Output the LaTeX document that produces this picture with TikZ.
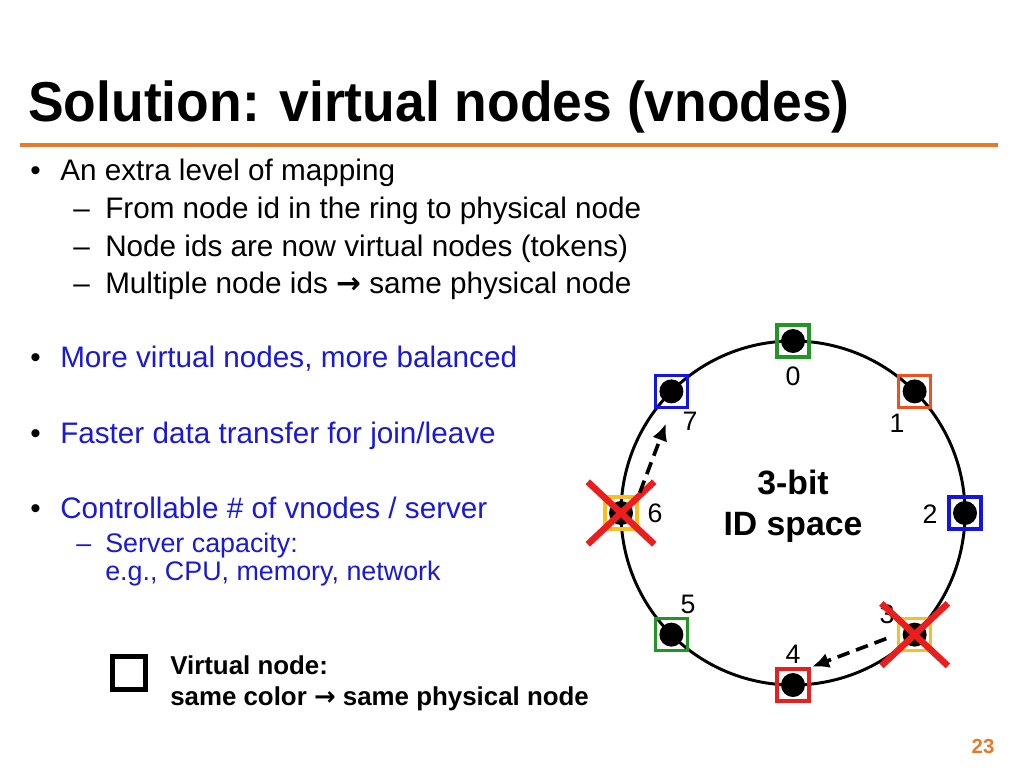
\documentclass[tikz,border=0pt]{standalone}
\usepackage{fontspec}
\setmainfont{Liberation Sans}
\newfontfamily\titlefont[FakeStretch=0.95]{Liberation Sans}
\newfontfamily\symfont{DejaVu Sans}
\usetikzlibrary{arrows.meta,shapes.misc}
\definecolor{vgreen}{RGB}{34,150,34}
\definecolor{vorange}{RGB}{240,80,30}
\definecolor{vblue}{RGB}{20,20,230}
\definecolor{vgold}{RGB}{250,190,30}
\definecolor{vred}{RGB}{235,30,30}
\definecolor{slideorange}{RGB}{235,120,40}
\definecolor{textblue}{RGB}{25,25,215}
\newcommand{\ar}{{\symfont\bfseries\char"2192}}
\begin{document}
\begin{tikzpicture}[x=0.025cm,y=-0.025cm,
    vnode/.style={draw,line width=2.6pt,minimum size=0.8cm,inner sep=0pt},
    crossmark/.style={cross out,draw=vred,line width=4.6pt,minimum width=1.5cm,minimum height=1.4cm,inner sep=0pt},
    move/.style={dashed,line width=2.6pt,dash pattern=on 9pt off 5pt,-{Latex[length=12pt,width=11pt]}},
    txt/.style={anchor=base west,inner sep=0pt,font=\fontsize{21.1}{25}\selectfont},
    subtxt/.style={txt,font=\fontsize{19.1}{22}\selectfont}]
  \useasboundingbox (0,0) rectangle (1024,768);
  % title
  \node[anchor=base west,inner sep=0pt,font=\titlefont\bfseries\fontsize{40}{44}\selectfont] (title) at (28,122) {Solution: virtual nodes (vnodes)};
  \draw[slideorange,line width=2.2pt] (20,145) -- (998,145);
  % bullets
  \foreach \y in {180,367,443,518}
    \node[txt] at (30,\y) {\textbullet};
  \foreach \y in {218,256,293}
    \node[txt] at (73,\y) {\textendash};
  \node[txt] (b1) at (60,180) {An extra level of mapping};
  \node[txt] (s1) at (105,218) {From node id in the ring to physical node};
  \node[txt] (s2) at (105,256) {Node ids are now virtual nodes (tokens)};
  \node[txt] (s3) at (105,293) {Multiple node ids \ar{} same physical node};
  \node[txt,textblue] (b2) at (60,367) {More virtual nodes, more balanced};
  \node[txt,textblue] (b3) at (60,443) {Faster data transfer for join/leave};
  \node[txt,textblue] (b4) at (60,518) {Controllable \# of vnodes / server};
  \node[subtxt,textblue] at (76,552) {\textendash};
  \node[subtxt,textblue] (s4) at (105,552) {Server capacity:};
  \node[subtxt,textblue] (s5) at (105,580) {e.g., CPU, memory, network};
  % ring
  \draw[line width=2.1pt] (793,513) circle (172);
  \node[font=\bfseries\fontsize{24}{29}\selectfont,align=center] (idspace) at (793,506) {3-bit\\ID space};
  \foreach \i/\col in {0/vgreen,1/vorange,2/vblue,3/vgold,4/vred,5/vgreen,6/vgold,7/vblue}{
    \fill ({793+172*sin(45*\i)},{513-172*cos(45*\i)}) circle (12);
    \node[vnode,draw=\col] (v\i) at ({793+172*sin(45*\i)},{513-172*cos(45*\i)}) {};
  }
  \foreach \i/\x/\y in {0/793/376,1/897/423,2/930/514,3/887/614,4/793/654,5/688/604,6/655/513,7/690/421}
    \node[font=\fontsize{19}{22}\selectfont] (n\i) at (\x,\y) {\i};
  \node[crossmark] (x6) at (v6) {};
  \node[crossmark] (x3) at (v3) {};
  \draw[move,shorten <=2pt,shorten >=11pt] (v6.north east) -- (v7.south);
  \draw[move,shorten <=8pt,shorten >=1pt] (v3.west) -- (v4.north east);
  % legend
  \node[draw,line width=3pt,minimum size=0.82cm,inner sep=0pt] (legend) at (129,673) {};
  \node[anchor=base west,inner sep=0pt,font=\bfseries\fontsize{18.4}{22}\selectfont,align=left] (legtxt) at (170,705)
    {Virtual node:\\same color \ar{} same physical node};
  \node[slideorange,font=\bfseries\fontsize{14.5}{17}\selectfont] (page) at (983,746) {23};
\end{tikzpicture}
\end{document}
